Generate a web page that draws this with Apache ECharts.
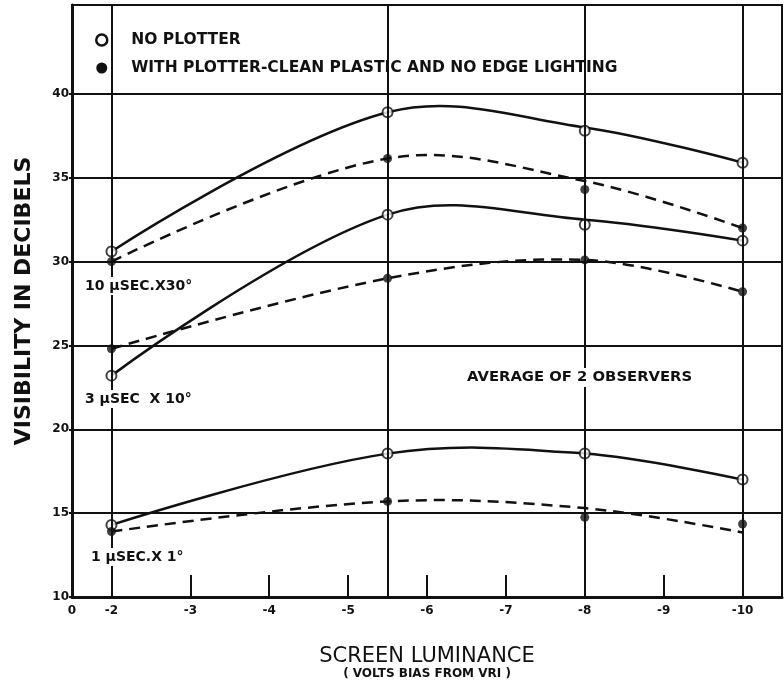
<!DOCTYPE html>
<html>
<head>
<meta charset="UTF-8">
<title>Visibility vs screen luminance</title>
<script src="https://cdn.jsdelivr.net/npm/echarts@6/dist/echarts.min.js"></script>
<style>
  html, body { margin: 0; padding: 0; background: #fff; }
  #chart { width: 784px; height: 680px; }
</style>
</head>
<body>
<div id="chart"></div>
<script>
// screen luminance (volts bias), the four measured columns
var xVals = [-2, -5.5, -8, -10];

// measured points (dB)
var noPlot10 = [30.6, 38.9, 37.8, 35.9];
var plot10 = [30.0, 36.15, 34.3, 32.0];
var noPlot3 = [23.2, 32.8, 32.2, 31.25];
var plot3 = [24.8, 29.0, 30.1, 28.2];
var noPlot1 = [14.3, 18.55, 18.55, 17.0];
var plot1 = [13.9, 15.7, 14.75, 14.35];

// faired curves, read where they cross the same columns
var curveNoPlot10 = [30.6, 38.9, 38.0, 35.9];
var curvePlot10 = [30.0, 36.15, 34.8, 32.0];
var curveNoPlot3 = [23.2, 32.8, 32.5, 31.25];
var curvePlot3 = [24.8, 29.0, 30.1, 28.2];
var curveNoPlot1 = [14.3, 18.55, 18.55, 17.0];
var curvePlot1 = [13.9, 15.7, 15.3, 13.85];

var xTickVals = [-2, -3, -4, -5, -6, -7, -8, -9, -10];
var xLabelVals = [-1.5, -2, -3, -4, -5, -6, -7, -8, -9, -10];
var yLabelVals = [10, 15, 20, 25, 30, 35, 40];
var yGrid = [15, 20, 25, 30, 35, 40];

var NO_PLOT = 'NO PLOTTER';
var WITH_PLOT = 'WITH PLOTTER-CLEAN PLASTIC AND NO EDGE LIGHTING';
var INK = '#111';
var FONT = 'DejaVu Sans';

function pairs(ys) {
  return xVals.map(function (x, i) { return [x, ys[i]]; });
}

// hand-faired curve: one smooth polyline through the column readings
function curve(name, ys, dashed) {
  return {
    name: name,
    type: 'custom',
    data: pairs(ys),
    silent: true,
    z: 2,
    renderItem: function (params, api) {
      if (params.dataIndex !== 0) return;
      var pts = xVals.map(function (x, i) { return api.coord([x, ys[i]]); });
      return {
        type: 'polyline',
        shape: { points: pts, smooth: 0.36 },
        style: { stroke: INK, lineWidth: 2.5, fill: null, lineDash: dashed ? [11, 7] : null }
      };
    }
  };
}

var chart = echarts.init(document.getElementById('chart'), null, { renderer: 'canvas' });

var first = curve(NO_PLOT, curveNoPlot10, false);
first.markLine = {
  silent: true,
  symbol: 'none',
  label: { show: false },
  animation: false,
  lineStyle: { color: INK, width: 2, type: 'solid' },
  data: xVals.map(function (v) { return { xAxis: v }; })
    .concat(yGrid.map(function (v) { return { yAxis: v }; }))
};

var annoFont = 'bold 14px "DejaVu Sans"';

var option = {
  backgroundColor: '#fff',
  animation: false,
  grid: {
    left: 72, right: 2, top: 5, bottom: 83,
    outerBoundsMode: 'none',
    show: true, borderColor: INK, borderWidth: 2
  },
  legend: {
    orient: 'vertical',
    left: 90, top: 27,
    itemWidth: 11, itemHeight: 11, itemGap: 12,
    backgroundColor: '#fff',
    padding: [5, 10, 8, 5],
    selectedMode: false,
    textStyle: { fontFamily: FONT, fontWeight: 'bold', fontSize: 15.5, color: INK, padding: [0, 0, 0, 19] },
    data: [
      { name: NO_PLOT, icon: 'circle', itemStyle: { color: '#fff', borderColor: INK, borderWidth: 2.5 } },
      { name: WITH_PLOT, icon: 'circle', itemStyle: { color: INK, borderWidth: 0 } }
    ]
  },
  xAxis: {
    type: 'value',
    inverse: true,
    min: -10.5, max: -1.5,
    name: '{a|SCREEN LUMINANCE}\n{b|( VOLTS BIAS FROM VRI )}',
    nameLocation: 'middle',
    nameGap: 50,
    nameTextStyle: {
      rich: {
        a: { fontFamily: FONT, fontSize: 21, color: INK, lineHeight: 20 },
        b: { fontFamily: FONT, fontSize: 12, fontWeight: 'bold', color: INK, lineHeight: 14 }
      }
    },
    axisLine: { lineStyle: { color: INK, width: 3 } },
    axisTick: { inside: true, length: 22, customValues: xTickVals, lineStyle: { color: INK, width: 2 } },
    axisLabel: {
      customValues: xLabelVals,
      margin: 8,
      fontFamily: FONT, fontWeight: 'bold', fontSize: 12, color: INK,
      formatter: function (v) { return v === -1.5 ? '0' : String(v); }
    },
    splitLine: { show: false }
  },
  yAxis: {
    type: 'value',
    min: 10, max: 45.3,
    name: 'VISIBILITY IN DECIBELS',
    nameLocation: 'middle',
    nameRotate: 90,
    nameGap: 37,
    nameTextStyle: { fontFamily: FONT, fontWeight: 'bold', fontSize: 22, color: INK },
    axisLine: { lineStyle: { color: INK, width: 3 } },
    axisTick: { show: true, length: 3, customValues: yLabelVals, lineStyle: { color: INK, width: 2 } },
    axisLabel: {
      customValues: yLabelVals,
      margin: 3,
      fontFamily: FONT, fontWeight: 'bold', fontSize: 12, color: INK
    },
    splitLine: { show: false }
  },
  graphic: [
    { type: 'text', left: 83, top: 277, z: 10, silent: true,
      style: { text: '10 µSEC.X30°', font: annoFont, fill: INK, backgroundColor: '#fff', padding: [2, 2] } },
    { type: 'text', left: 83, top: 390, z: 10, silent: true,
      style: { text: '3 µSEC  X 10°', font: annoFont, fill: INK, backgroundColor: '#fff', padding: [2, 2] } },
    { type: 'text', left: 89, top: 548, z: 10, silent: true,
      style: { text: '1 µSEC.X 1°', font: annoFont, fill: INK, backgroundColor: '#fff', padding: [2, 2] } },
    { type: 'text', left: 464, top: 368, z: 10, silent: true,
      style: { text: 'AVERAGE OF 2 OBSERVERS', font: 'bold 14.8px "DejaVu Sans"', fill: INK, backgroundColor: '#fff', padding: [2, 3] } }
  ],
  series: [
    first,
    curve(NO_PLOT, curveNoPlot3, false),
    curve(NO_PLOT, curveNoPlot1, false),
    curve(WITH_PLOT, curvePlot10, true),
    curve(WITH_PLOT, curvePlot3, true),
    curve(WITH_PLOT, curvePlot1, true),
    {
      name: NO_PLOT,
      type: 'scatter',
      data: pairs(noPlot10).concat(pairs(noPlot3), pairs(noPlot1)),
      symbol: 'circle',
      symbolSize: 10,
      itemStyle: { color: '#fff', borderColor: INK, borderWidth: 2 },
      z: 4
    },
    {
      name: WITH_PLOT,
      type: 'scatter',
      data: pairs(plot10).concat(pairs(plot3), pairs(plot1)),
      symbol: 'circle',
      symbolSize: 9,
      itemStyle: { color: INK },
      z: 4
    }
  ]
};

chart.setOption(option);
</script>
</body>
</html>
